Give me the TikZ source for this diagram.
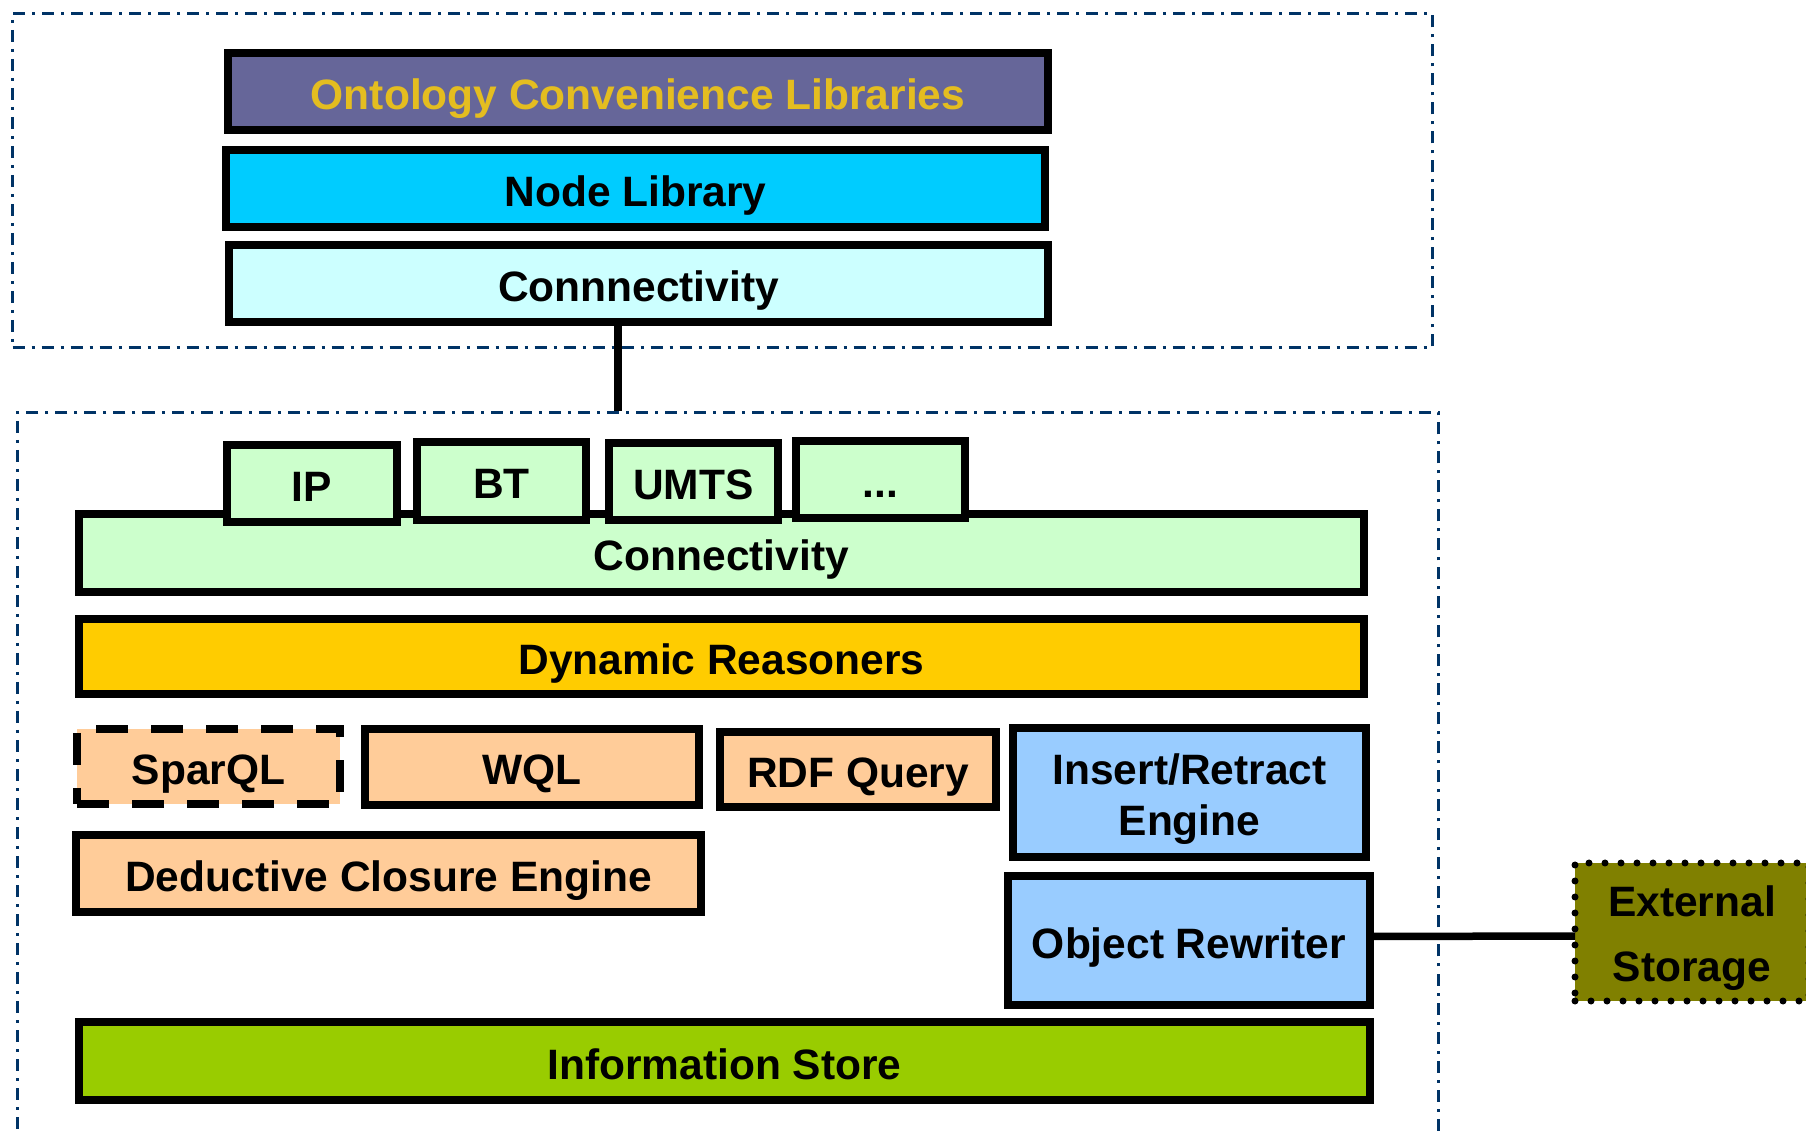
\documentclass[tikz,border=0pt]{standalone}
\usepackage{fontspec}
\setmainfont{Liberation Sans}
\usetikzlibrary{positioning}

% fills
\definecolor{ontfill}{RGB}{102,102,153}
\definecolor{onttext}{RGB}{228,189,32}
\definecolor{libfill}{RGB}{0,204,255}
\definecolor{conntopfill}{RGB}{204,255,255}
\definecolor{connfill}{RGB}{204,255,204}
\definecolor{reasonfill}{RGB}{255,204,0}
\definecolor{queryfill}{RGB}{255,204,153}
\definecolor{enginefill}{RGB}{153,204,255}
\definecolor{storefill}{RGB}{153,204,0}
\definecolor{extfill}{RGB}{128,128,0}
\definecolor{framecol}{RGB}{0,51,102}

% lower a line of text without changing its box
\newcommand\lowered[1]{\raisebox{-3.2pt}[\height][\depth]{#1}}

\tikzset{
  layer/.style={draw=black, line width=4pt, inner sep=0pt, outer sep=0pt,
    font=\fontsize{21.25}{25.5}\selectfont\bfseries,
    text height=18pt, text depth=0pt},
  twoline/.style={draw=black, line width=4pt, inner sep=0pt, outer sep=0pt,
    align=center, font=\fontsize{21.25}{25.5}\selectfont\bfseries},
  frame/.style={draw=framecol, line width=1.5pt,
    dash pattern=on 6pt off 3.5pt on 1.5pt off 3.5pt, inner sep=0pt},
  optional/.style={dash pattern=on 16pt off 11.5pt},
  extbox/.style={draw=black, line width=3.5pt, line cap=round,
    dash pattern=on 0pt off 8pt, inner sep=0pt, outer sep=0pt, align=center,
    font=\fontsize{21.25}{32.5}\selectfont\bfseries},
  wire/.style={draw=black, line width=3.75pt}
}

\begin{document}
\begin{tikzpicture}[x=0.5pt, y=-0.5pt]
\useasboundingbox (0,0) rectangle (1806,1133);

% application tier
\node[frame, minimum width=709.75pt, minimum height=167.25pt] (frameA) at (722.25,180.75) {};
\node[layer, fill=ontfill, text=onttext, minimum width=410pt, minimum height=38.5pt] (ont) at (638,91.5) {Ontology Convenience Libraries};
\node[layer, fill=libfill, minimum width=409.5pt, minimum height=38.5pt] (lib) at (635.5,188.5) {Node Library};
\node[layer, fill=conntopfill, minimum width=409.5pt, minimum height=38.5pt] (conntop) at (638.5,283.5) {Connnectivity};

% middleware tier
\node[frame, minimum width=710.25pt, minimum height=373.5pt] (frameB) at (727.75,786.5) {};

\node[layer, fill=connfill, minimum width=642.5pt, minimum height=39pt] (conn) at (721.5,553) {Connectivity};
\node[layer, fill=connfill, minimum width=85pt, minimum height=38.5pt] (ip) at (312,483.5) {IP};
\node[layer, fill=connfill, minimum width=84.5pt, minimum height=39pt] (bt) at (501.5,481) {BT};
\node[layer, fill=connfill, minimum width=84.5pt, minimum height=38.5pt] (umts) at (693.5,481.5) {UMTS};
\node[layer, fill=connfill, minimum width=84.5pt, minimum height=38.5pt] (more) at (880.5,479.5) {...};

\node[layer, fill=reasonfill, minimum width=642.5pt, minimum height=37.5pt] (dyn) at (721.5,656.5) {Dynamic Reasoners};

\node[layer, optional, fill=queryfill, minimum width=131.5pt, minimum height=37.5pt] (sparql) at (208.5,766.5) {SparQL};
\node[layer, fill=queryfill, minimum width=167pt, minimum height=38pt] (wql) at (532,767) {WQL};
\node[layer, fill=queryfill, minimum width=138pt, minimum height=37.5pt] (rdf) at (858,769.5) {RDF Query};
\node[twoline, fill=enginefill, minimum width=176.5pt, minimum height=64.5pt] (insert) at (1189.5,792.5) {\lowered{Insert/Retract}\\\lowered{Engine}};
\node[layer, fill=queryfill, minimum width=312.5pt, minimum height=38.5pt] (ded) at (388.5,873.5) {Deductive Closure Engine};
\node[layer, fill=enginefill, minimum width=181pt, minimum height=64.5pt] (obj) at (1189,940.5) {Object Rewriter};
\node[layer, fill=storefill, minimum width=645.5pt, minimum height=39pt] (info) at (724.5,1061) {Information Store};

% external storage
\node[extbox, fill=extfill, minimum width=117pt, minimum height=69pt] (ext) at (1692,932) {\lowered{External}\\\lowered{Storage}};

% connectors
\coordinate (tap) at (618,326);
\draw[wire] (tap |- conntop.south) -- (tap |- frameB.north);
\draw[wire] ([yshift=2pt]obj.east) -- ([yshift=-2pt]ext.west);
\end{tikzpicture}
\end{document}
